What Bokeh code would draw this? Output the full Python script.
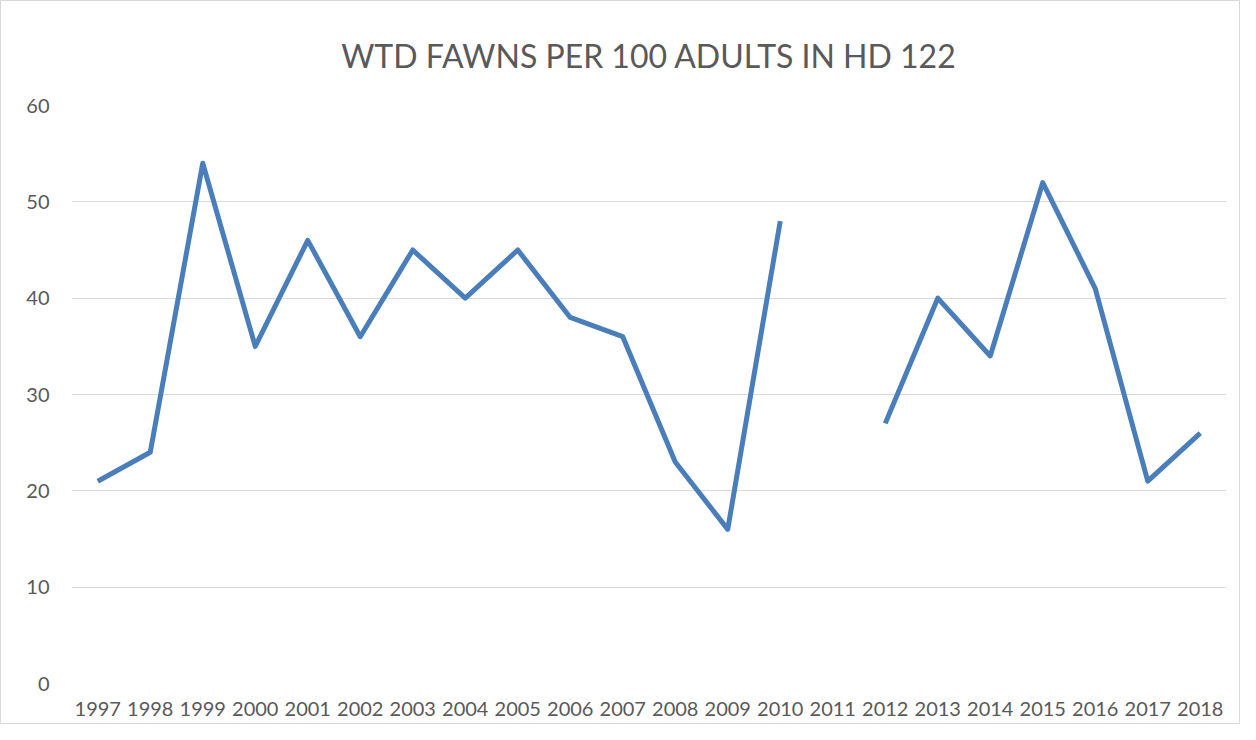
import math
from bokeh.plotting import figure
from bokeh.models import ColumnDataSource, FactorRange, Range1d, FixedTicker
from bokeh.embed import file_html
from bokeh.resources import INLINE

years = [str(y) for y in range(1997, 2019)]
fawns = [21, 24, 54, 35, 46, 36, 45, 40, 45, 38, 36, 23, 16, 48, float("nan"),
         27, 40, 34, 52, 41, 21, 26]
y_ticks = [0, 10, 20, 30, 40, 50, 60]

src = ColumnDataSource(dict(year=years, val=fawns))

p = figure(width=1240, height=724, x_range=FactorRange(*years), y_range=Range1d(0, 60),
           output_backend="svg", toolbar_location=None,
           min_border_left=70, min_border_right=15, min_border_bottom=42, min_border_top=104)
p.styles = {"border": "1px solid #d9d9d9"}

p.title.text = "WTD FAWNS PER 100 ADULTS IN HD 122"
p.title.align = "center"
p.title.text_font = "Lato"
p.title.text_font_style = "normal"
p.title.text_font_size = "32px"
p.title.text_color = "#595959"
p.title.standoff = 62

p.line("year", "val", source=src, line_color="#4a7ebb", line_width=5, line_join="round")

p.outline_line_color = None
p.xgrid.grid_line_color = None
p.ygrid.grid_line_color = "#d9d9d9"
p.ygrid.grid_line_width = 1
p.yaxis.ticker = FixedTicker(ticks=y_ticks)
for ax in (p.xaxis[0], p.yaxis[0]):
    ax.axis_line_color = None
    ax.major_tick_line_color = None
    ax.minor_tick_line_color = None
    ax.major_label_text_font = "Lato"
    ax.major_label_text_font_size = "20px"
    ax.major_label_text_color = "#595959"
p.yaxis.major_label_standoff = 16
p.xaxis.major_label_standoff = 12
p.x_range.range_padding = 0
p.x_range.group_padding = 0

open("out.html", "w").write(file_html(p, INLINE))
